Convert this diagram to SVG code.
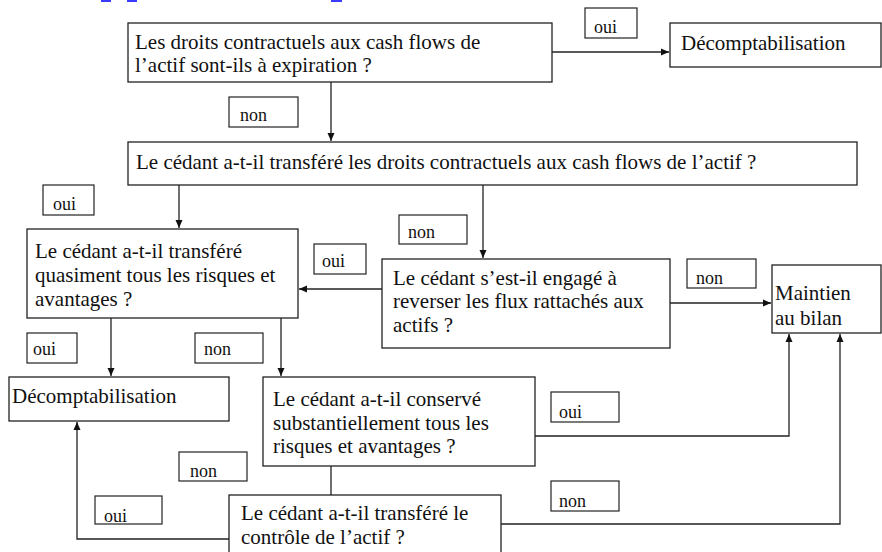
<svg xmlns="http://www.w3.org/2000/svg" width="882" height="552" viewBox="0 0 882 552">
<style>
.box{fill:#fff;stroke:#222;stroke-width:1.3}
.lbl{fill:#fff;stroke:#222;stroke-width:1.2}
text{font-family:'Liberation Serif','Times New Roman',Times,'Noto Serif','DejaVu Serif',FreeSerif,'Nimbus Roman','Nimbus Roman No9 L',Tinos,serif;fill:#111}
.t{font-size:21px}
.s{font-size:18px}
.c{fill:none;stroke:#222;stroke-width:1.3}
.frag{fill:#3a3aff}
</style>
<defs>
<marker id="ah" markerUnits="userSpaceOnUse" markerWidth="9" markerHeight="8" refX="8" refY="4" orient="auto">
<path d="M0,0.5 L8,4 L0,7.5 z" fill="#111"/>
</marker>
</defs>
<g id="fragments">
<rect class="frag" x="101" y="0" width="10" height="2"/>
<rect class="frag" x="127" y="0" width="10" height="2"/>
<rect class="frag" x="331" y="0" width="11" height="2"/>
</g>
<g id="connectors">
<path class="c" d="M552,52 H669" marker-end="url(#ah)"/>
<path class="c" d="M331,82 V141" marker-end="url(#ah)"/>
<path class="c" d="M179,185 V228" marker-end="url(#ah)"/>
<path class="c" d="M483,185 V258" marker-end="url(#ah)"/>
<path class="c" d="M382,289 H299" marker-end="url(#ah)"/>
<path class="c" d="M670,303 H771" marker-end="url(#ah)"/>
<path class="c" d="M111,318 V376" marker-end="url(#ah)"/>
<path class="c" d="M281,318 V376" marker-end="url(#ah)"/>
<path class="c" d="M535,436 H789 V334" marker-end="url(#ah)"/>
<path class="c" d="M331,466 V495"/>
<path class="c" d="M501,524 H840 V334" marker-end="url(#ah)"/>
<path class="c" d="M229,539 H77 V422" marker-end="url(#ah)"/>
</g>
<g id="n1"><rect class="box" x="128" y="23" width="424" height="59"/>
<text class="t" x="135" y="49">Les droits contractuels aux cash flows de</text>
<text class="t" x="135" y="72">l’actif sont-ils à expiration ?</text></g>
<g id="d1"><rect class="box" x="670" y="23" width="211" height="44"/>
<text class="t" x="681" y="50">Décomptabilisation</text></g>
<g id="n2"><rect class="box" x="128" y="142" width="729" height="43"/>
<text class="t" x="136" y="169">Le cédant a-t-il transféré les droits contractuels aux cash flows de l’actif ?</text></g>
<g id="n3"><rect class="box" x="27" y="229" width="271" height="89"/>
<text class="t" x="35" y="258">Le cédant a-t-il transféré</text>
<text class="t" x="35" y="282">quasiment tous les risques et</text>
<text class="t" x="35" y="306">avantages ?</text></g>
<g id="n4"><rect class="box" x="382" y="259" width="288" height="89"/>
<text class="t" x="393" y="285">Le cédant s’est-il engagé à</text>
<text class="t" x="393" y="308">reverser les flux rattachés aux</text>
<text class="t" x="393" y="332">actifs ?</text></g>
<g id="m"><rect class="box" x="772" y="265" width="109" height="68"/>
<text class="t" x="775" y="300">Maintien</text>
<text class="t" x="775" y="325">au bilan</text></g>
<g id="d2"><rect class="box" x="9" y="377" width="220" height="44"/>
<text class="t" x="12" y="403">Décomptabilisation</text></g>
<g id="n5"><rect class="box" x="263" y="377" width="272" height="89"/>
<text class="t" x="273" y="406">Le cédant a-t-il conservé</text>
<text class="t" x="273" y="430">substantiellement tous les</text>
<text class="t" x="273" y="453">risques et avantages ?</text></g>
<g id="n6"><rect class="box" x="229" y="495" width="272" height="70"/>
<text class="t" x="241" y="520">Le cédant a-t-il transféré le</text>
<text class="t" x="241" y="544">contrôle de l’actif ?</text></g>
<g id="labels">
<g id="l-oui1"><rect class="lbl" x="585" y="8" width="52" height="30"/><text class="s" x="594" y="33">oui</text></g>
<g id="l-non1"><rect class="lbl" x="229" y="97" width="69" height="30"/><text class="s" x="240" y="121">non</text></g>
<g id="l-oui2"><rect class="lbl" x="43" y="185" width="51" height="30"/><text class="s" x="53" y="210">oui</text></g>
<g id="l-non2"><rect class="lbl" x="399" y="215" width="68" height="29"/><text class="s" x="408" y="238">non</text></g>
<g id="l-oui3"><rect class="lbl" x="314" y="244" width="52" height="30"/><text class="s" x="322" y="267">oui</text></g>
<g id="l-non3"><rect class="lbl" x="687" y="259" width="69" height="29"/><text class="s" x="696" y="284">non</text></g>
<g id="l-oui4"><rect class="lbl" x="27" y="333" width="50" height="30"/><text class="s" x="33" y="355">oui</text></g>
<g id="l-non4"><rect class="lbl" x="195" y="333" width="68" height="30"/><text class="s" x="204" y="355">non</text></g>
<g id="l-oui5"><rect class="lbl" x="551" y="392" width="68" height="30"/><text class="s" x="559" y="418">oui</text></g>
<g id="l-non5"><rect class="lbl" x="179" y="452" width="68" height="29"/><text class="s" x="190" y="477">non</text></g>
<g id="l-oui6"><rect class="lbl" x="95" y="496" width="67" height="28"/><text class="s" x="104" y="522">oui</text></g>
<g id="l-non6"><rect class="lbl" x="551" y="481" width="68" height="30"/><text class="s" x="559" y="507">non</text></g>
</g>
</svg>
